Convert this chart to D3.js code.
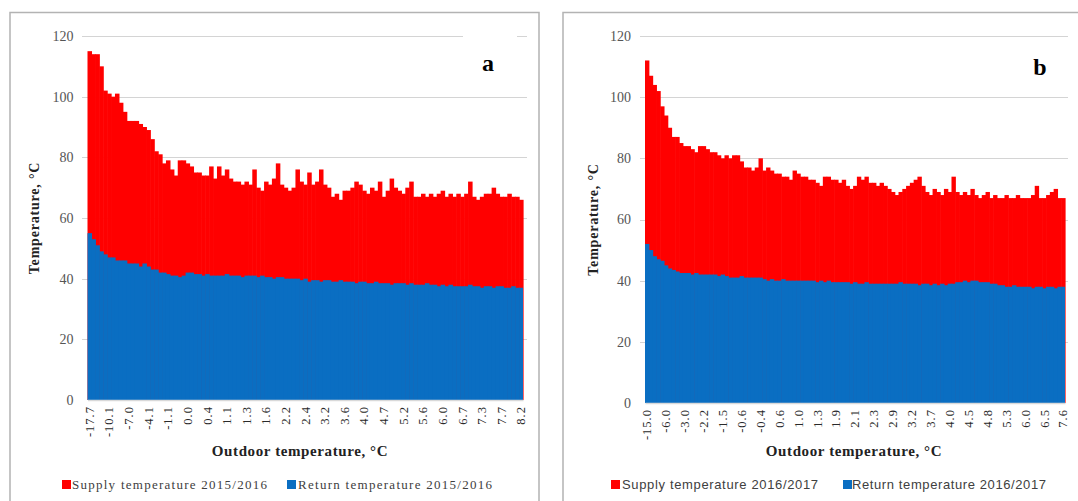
<!DOCTYPE html>
<html>
<head>
<meta charset="utf-8">
<script src="https://cdn.jsdelivr.net/npm/d3@7"></script>
<style>
  body { margin: 0; background: #fff; }
  svg { display: block; }
</style>
</head>
<body>
<svg id="chart" width="1078" height="501"></svg>
<script>
// Outdoor temperature labels (every 5th category)
var labelsA = ["-17.7", "-10.1", "-7.0", "-4.1", "-1.1", "0.0", "0.4", "1.1", "1.3", "1.6", "2.2", "2.4",
  "3.2", "3.6", "4.0", "4.7", "5.2", "5.6", "6.0", "6.7", "7.3", "7.7", "8.2"];
var labelsB = ["-15.0", "-6.0", "-3.0", "-2.2", "-1.5", "-0.6", "-0.4", "0.6", "1.0", "1.3", "1.9", "2.1",
  "2.3", "2.9", "3.2", "3.7", "4.0", "4.5", "4.8", "5.3", "6.0", "6.5", "7.6"];

// 2015/2016
var supplyA = [115, 114, 114, 110, 102, 101, 100, 101, 98, 95,
  92, 92, 92, 91, 90, 89, 86, 82, 81, 78,
  79, 76, 74, 79, 79, 78, 77, 75, 75, 74,
  74, 77, 73, 77, 74, 76, 73, 72, 72, 71,
  72, 71, 76, 70, 69, 72, 71, 73, 78, 71,
  70, 69, 70, 76, 72, 71, 75, 71, 72, 76,
  71, 70, 67, 68, 66, 69, 69, 70, 72, 71,
  69, 68, 70, 69, 72, 67, 69, 73, 70, 69,
  68, 70, 72, 67, 67, 68, 67, 68, 67, 68,
  69, 67, 68, 67, 68, 67, 68, 72, 67, 66,
  67, 68, 68, 70, 68, 67, 67, 68, 67, 67, 66];
var returnA = [55, 53, 51, 49, 48, 47, 47, 46, 46, 46,
  45, 45, 45, 44, 45, 44, 43, 43, 42, 42,
  41.5, 41, 41, 40.5, 41, 42, 42, 41.5, 41.5, 41,
  41.5, 41, 41, 41, 41, 41.5, 41, 41, 41, 40.5,
  41, 41, 41, 40.5, 41, 40.5, 40.5, 40, 40.5, 40.5,
  40, 40, 40, 40, 39.5, 40, 39, 39.5, 39.5, 39,
  39.5, 39.5, 39, 39, 39.5, 39, 39, 39, 38.5, 39,
  39, 38.5, 38.5, 39, 38.5, 38.5, 38.5, 38, 38.5, 38.5,
  38.5, 38, 38.5, 38, 38, 38, 38.5, 38, 38, 37.5,
  38, 37.5, 38, 37.5, 37.5, 37.5, 37.5, 38, 37.5, 37.5,
  37, 37.5, 37.5, 37, 37.5, 37.5, 37, 37, 37.5, 37, 37];

// 2016/2017
var supplyB = [112, 107, 104, 102, 97, 94, 90, 87, 87, 85,
  84, 84, 83, 82, 84, 84, 83, 82, 82, 81,
  80, 81, 80, 81, 81, 79, 77, 77, 76, 77,
  80, 76, 77, 76, 75, 75, 74, 74, 73, 76,
  75, 74, 74, 73, 73, 72, 71, 74, 74, 73,
  73, 72, 73, 71, 70, 71, 74, 73, 74, 72,
  72, 71, 72, 71, 70, 69, 68, 69, 70, 71,
  72, 73, 74, 71, 69, 68, 70, 69, 68, 70,
  69, 74, 69, 68, 69, 68, 70, 68, 67, 68,
  69, 67, 68, 67, 67, 68, 67, 67, 68, 67,
  67, 67, 68, 71, 67, 67, 68, 69, 70, 67, 67];
var returnB = [52, 50, 48, 47, 46.5, 45, 44, 43.5, 43, 42.5,
  42.5, 42.5, 42, 42.5, 42, 42, 42, 42, 42, 41.5,
  42, 41.5, 41, 41, 41, 41.5, 41, 41, 41, 41,
  41, 40.5, 40, 40.5, 40, 40, 40.5, 40, 40, 40,
  40, 40, 40, 40, 40, 39.5, 40, 39.5, 40, 39.5,
  39.5, 39.5, 39.5, 39.5, 39, 39.5, 39, 39, 39.5, 39,
  39, 39, 39, 39, 39, 39, 39, 39.5, 39, 39,
  39, 39, 38.5, 39, 39, 38.5, 39, 38.5, 39, 38.5,
  39, 39, 39.5, 39.5, 40, 39.5, 40, 40, 39.5, 39.5,
  39.5, 39, 39, 38.5, 38.5, 38, 38, 38.5, 38, 38,
  38, 38, 37.5, 38, 38, 37.5, 38, 38, 37.5, 38, 38];

var yTicks = [0, 20, 40, 60, 80, 100, 120];

var RED = "#ff0000";
var BLUE = "#0a6ec2";
var SERIF = "'Liberation Serif', 'Times New Roman', serif";
var SANS = "'Liberation Sans', Arial, sans-serif";

var svg = d3.select("#chart");

var panels = [
  {
    box: [10, 12.5, 529],
    plot: { x0: 87.5, x1: 523, y0: 400, y1: 36 },
    gridX: [82, 527],
    supply: supplyA, ret: returnA, labels: labelsA,
    letter: "a", letterX: 488, letterY: 71, letterBox: [463, 33, 54, 60],
    yTitleX: 34,
    xTitleX: 300,
    legend: { font: SERIF, red: 62, redText: 72, blue: 287, blueText: 298,
      s: "Supply temperature 2015/2016", r: "Return temperature 2015/2016", sw: 195, rw: 194 }
  },
  {
    box: [563, 12.5, 530],
    plot: { x0: 645, x1: 1065, y0: 403, y1: 36 },
    gridX: [640, 1068],
    supply: supplyB, ret: returnB, labels: labelsB,
    letter: "b", letterX: 1040, letterY: 75, letterBox: null,
    yTitleX: 593,
    xTitleX: 854,
    legend: { font: SANS, red: 611, redText: 622, blue: 843, blueText: 852,
      s: "Supply temperature 2016/2017", r: "Return temperature 2016/2017", sw: 196, rw: 194 }
  }
];

panels.forEach(drawPanel);

function drawPanel(p) {
  var g = svg.append("g");

  // panel frame (bottom is cut off by the picture)
  g.append("path")
    .attr("d", "M" + p.box[0] + "," + 520 + "V" + p.box[1] + "H" + (p.box[0] + p.box[2]) + "V520")
    .attr("fill", "none")
    .attr("stroke", "#b3b3b3")
    .attr("stroke-width", 1.5);

  var n = p.supply.length;
  var x = d3.scaleBand().domain(d3.range(n)).range([p.plot.x0, p.plot.x1]).padding(0);
  var y = d3.scaleLinear().domain([0, 120]).range([p.plot.y0, p.plot.y1]);

  // gridlines
  g.selectAll(".grid")
    .data(yTicks.filter(function(d) { return d > 0; }))
    .enter()
    .append("line")
    .attr("x1", p.gridX[0])
    .attr("x2", p.gridX[1])
    .attr("y1", function(d) { return Math.round(y(d)) + 0.5; })
    .attr("y2", function(d) { return Math.round(y(d)) + 0.5; })
    .attr("stroke", "#d4d4d4")
    .attr("stroke-width", 1.2);

  // y labels
  g.selectAll(".ylab")
    .data(yTicks)
    .enter()
    .append("text")
    .attr("x", p.plot.x0 - 14)
    .attr("y", function(d) { return y(d); })
    .attr("dy", "0.35em")
    .attr("text-anchor", "end")
    .style("font-family", SERIF)
    .style("font-size", "14px")
    .style("fill", "#555")
    .text(function(d) { return d; });

  if (p.letterBox) {
    g.append("rect")
      .attr("x", p.letterBox[0]).attr("y", p.letterBox[1])
      .attr("width", p.letterBox[2]).attr("height", p.letterBox[3])
      .attr("fill", "#fff");
  }

  // supply bars (red), return bars drawn over them (blue)
  g.selectAll(".sup")
    .data(p.supply)
    .enter()
    .append("rect")
    .attr("x", function(d, i) { return x(i); })
    .attr("width", x.bandwidth() + 0.6)
    .attr("y", function(d) { return y(d); })
    .attr("height", function(d) { return y(0) - y(d); })
    .attr("fill", RED);

  g.selectAll(".ret")
    .data(p.ret)
    .enter()
    .append("rect")
    .attr("x", function(d, i) { return x(i); })
    .attr("width", function(d, i) { return i === n - 1 ? x.bandwidth() : x.bandwidth() + 0.6; })
    .attr("y", function(d) { return y(d); })
    .attr("height", function(d) { return y(0) - y(d); })
    .attr("fill", BLUE);

  // x axis
  var xAxis = d3.axisBottom(x)
    .tickValues(d3.range(0, n, 5))
    .tickFormat(function(i) { return p.labels[i / 5]; })
    .tickSize(0);

  var ax = g.append("g")
    .attr("transform", "translate(0," + y(0) + ")")
    .call(xAxis);
  ax.select(".domain").attr("stroke", "#d9d9d9").attr("stroke-width", 1.5);
  ax.selectAll("text")
    .attr("transform", "rotate(-90)")
    .attr("text-anchor", "end")
    .attr("x", -6)
    .attr("y", 0)
    .attr("dy", "0.35em")
    .style("font-family", SERIF)
    .style("font-size", "12.5px")
    .style("letter-spacing", "1px")
    .style("fill", "#2a2a2a");

  // axis titles
  g.append("text")
    .attr("transform", "translate(" + p.yTitleX + "," + (p.plot.y0 + p.plot.y1) / 2 + ") rotate(-90)")
    .attr("text-anchor", "middle")
    .attr("dy", "0.35em")
    .style("font-family", SERIF)
    .style("font-weight", "bold")
    .style("font-size", "14px")
    .style("letter-spacing", "0.8px")
    .style("fill", "#222")
    .text("Temperature, °C");

  g.append("text")
    .attr("x", p.xTitleX)
    .attr("y", 456)
    .attr("text-anchor", "middle")
    .style("font-family", SERIF)
    .style("font-weight", "bold")
    .style("font-size", "15px")
    .style("letter-spacing", "0.6px")
    .style("fill", "#222")
    .text("Outdoor temperature, °C");

  // panel letter
  g.append("text")
    .attr("x", p.letterX)
    .attr("y", p.letterY)
    .attr("text-anchor", "middle")
    .style("font-family", SERIF)
    .style("font-weight", "bold")
    .style("font-size", "24px")
    .style("fill", "#000")
    .text(p.letter);

  // legend
  var L = p.legend;
  g.append("rect").attr("x", L.red).attr("y", 480).attr("width", 9).attr("height", 9).attr("fill", RED);
  g.append("rect").attr("x", L.blue).attr("y", 480).attr("width", 9).attr("height", 9).attr("fill", BLUE);
  g.append("text")
    .attr("x", L.redText).attr("y", 489)
    .attr("textLength", L.sw).attr("lengthAdjust", "spacing")
    .style("font-family", L.font).style("font-size", "13px").style("fill", "#404040")
    .text(L.s);
  g.append("text")
    .attr("x", L.blueText).attr("y", 489)
    .attr("textLength", L.rw).attr("lengthAdjust", "spacing")
    .style("font-family", L.font).style("font-size", "13px").style("fill", "#404040")
    .text(L.r);
}
</script>
</body>
</html>
